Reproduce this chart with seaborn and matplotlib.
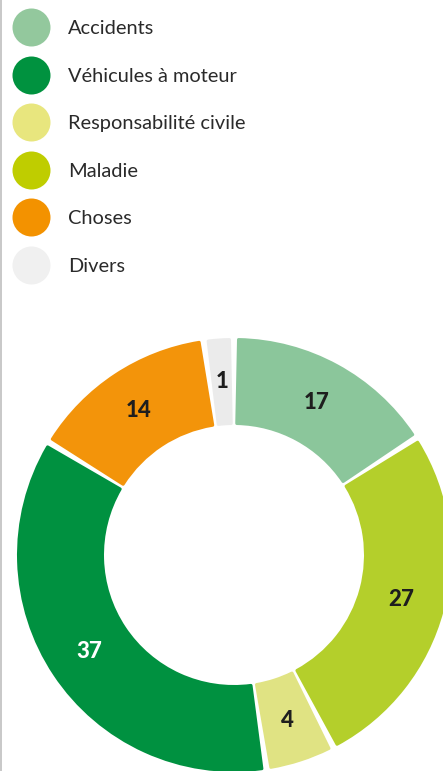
import matplotlib
matplotlib.use("Agg")
import matplotlib.pyplot as plt
from matplotlib.lines import Line2D
import seaborn as sns

# ---- data ----
legend_names = ["Accidents", "Véhicules à moteur", "Responsabilité civile",
                "Maladie", "Choses", "Divers"]
legend_colors = ["#93c89d", "#00923f", "#e8e67e", "#bfcd00", "#f39200", "#f0f0f0"]

# donut order (clockwise from 12 o'clock)
slice_names = ["Accidents", "Maladie", "Responsabilité civile",
               "Véhicules à moteur", "Choses", "Divers"]
printed_values = ["17", "27", "4", "37", "14", "1"]
# angular share of each slice as measured in the picture (percent of circle)
slice_shares = [15.9, 26.5, 5.2, 36.1, 14.05, 2.25]
slice_colors = ["#8bc69b", "#b4cf2b", "#e0e383", "#009140", "#f3940a", "#ebebeb"]
label_colors = ["#1e1e1e", "#1e1e1e", "#1e1e1e", "#ffffff", "#1e1e1e", "#1e1e1e"]

sns.set_theme(style="white")
plt.rcParams["font.family"] = ["Lato", "DejaVu Sans"]

W_PX, H_PX = 443, 771
fig = plt.figure(figsize=(W_PX / 100, H_PX / 100), dpi=100)
ax = fig.add_axes([0, 0, 1, 1])

PT = 0.72  # points per pixel at 100 dpi
cx, cy = 234, H_PX - 555
R_out, R_in = 217, 130
d = 1.5            # corner rounding (px)
gap_deg = 2.4      # angular gap between slices

wedges, texts = ax.pie(
    slice_shares,
    labels=printed_values,
    colors=slice_colors,
    startangle=90,
    counterclock=False,
    center=(cx, cy),
    radius=R_out - d,
    labeldistance=((R_out + R_in) / 2) / (R_out - d),
    wedgeprops=dict(width=(R_out - R_in) - 2 * d),
)
for w, c in zip(wedges, slice_colors):
    w.set_theta1(w.theta1 + gap_deg / 2)
    w.set_theta2(w.theta2 - gap_deg / 2)
    w.set_edgecolor(c)
    w.set_linewidth(2 * d * PT)
    w.set_joinstyle("round")

for t, c in zip(texts, label_colors):
    t.set_ha("center")
    t.set_va("center")
    t.set_fontsize(16)
    t.set_fontweight("black")
    t.set_color(c)

ax.set_xlim(0, W_PX)
ax.set_ylim(0, H_PX)
ax.set_aspect("equal")
ax.axis("off")

# left border line
ax.axvline(0.8, color="#c8c8c8", lw=1.4)

# legend
handles = [Line2D([], [], marker="o", ls="", markersize=38 * PT,
                  markerfacecolor=c, markeredgewidth=0) for c in legend_colors]
fs = 14.4
fs_px = fs / PT
leg = ax.legend(handles, legend_names, loc="upper left",
                bbox_to_anchor=(12 / W_PX, 1 - 20 / H_PX),
                bbox_transform=fig.transFigure,
                frameon=False, fontsize=fs, borderpad=0, borderaxespad=0,
                handlelength=38 / fs_px, handletextpad=18 / fs_px,
                labelspacing=1.53)
for t in leg.get_texts():
    t.set_color("#2a2a2a")

fig.savefig("out.png", dpi=100)
